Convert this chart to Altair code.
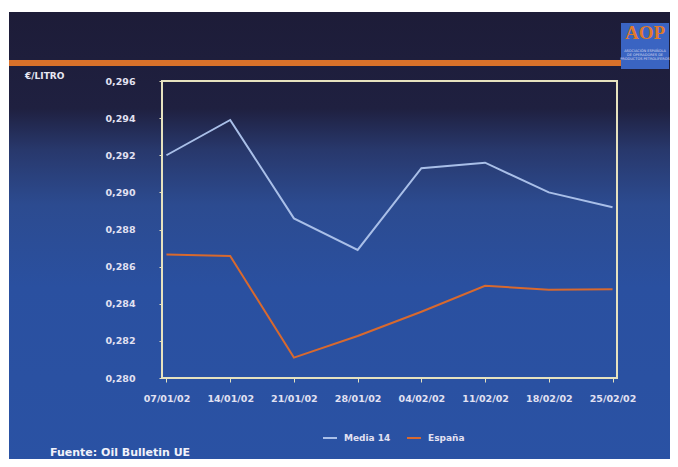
import altair as alt
import pandas as pd

dates = ["07/01/02", "14/01/02", "21/01/02", "28/01/02", "04/02/02", "11/02/02", "18/02/02", "25/02/02"]
media14 = [0.2920, 0.2939, 0.2886, 0.2869, 0.2913, 0.2916, 0.2900, 0.2892]
espana = [0.28665, 0.28657, 0.2811, 0.28226, 0.28357, 0.28497, 0.28476, 0.28478]
series_names = ["Media 14", "España"]
y_ticks = [0.280, 0.282, 0.284, 0.286, 0.288, 0.290, 0.292, 0.294, 0.296]

rows = []
for i, d in enumerate(dates):
    rows.append({"idx": i, "fecha": d, "serie": series_names[0], "valor": media14[i]})
    rows.append({"idx": i, "fecha": d, "serie": series_names[1], "valor": espana[i]})
df = pd.DataFrame(rows)
one = pd.DataFrame({"a": [0]})

W, H = 455, 297
label_font = "DejaVu Sans"
label_color = "#e2e1f2"
tick_color = "#e6e2bf"

bg = alt.Chart(one).mark_rect(
    fill=alt.Gradient(
        gradient="linear",
        stops=[
            alt.GradientStop(offset=0.0, color="#1d1c38"),
            alt.GradientStop(offset=0.21, color="#1f2040"),
            alt.GradientStop(offset=0.30, color="#28386c"),
            alt.GradientStop(offset=0.42, color="#2c4b90"),
            alt.GradientStop(offset=0.60, color="#2a50a0"),
            alt.GradientStop(offset=1.0, color="#2a52a4"),
        ],
        x1=0, x2=0, y1=0, y2=1,
    )
).encode(x=alt.value(-153), x2=alt.value(520), y=alt.value(-69), y2=alt.value(390))

bar = alt.Chart(one).mark_rect(color="#d9712a").encode(
    x=alt.value(-153), x2=alt.value(459), y=alt.value(-21), y2=alt.value(-15)
)

logo_box = alt.Chart(one).mark_rect(color="#3a64c2").encode(
    x=alt.value(459), x2=alt.value(507), y=alt.value(-58), y2=alt.value(-12)
)
logo_text = alt.Chart(one).mark_text(
    text="AOP", color="#e07a2a", font="Liberation Serif", fontSize=19, fontWeight="bold",
    align="center", baseline="middle"
).encode(x=alt.value(483), y=alt.value(-48))
logo_small = alt.Chart(one).mark_text(
    text=["ASOCIACIÓN ESPAÑOLA", "DE OPERADORES DE", "PRODUCTOS PETROLÍFEROS"],
    color="#d8dcf0", font=label_font, fontSize=3.5, lineHeight=4,
    align="center", baseline="top"
).encode(x=alt.value(483), y=alt.value(-32))

unit = alt.Chart(one).mark_text(
    text="€/LITRO", color="#e8e8f4", font=label_font, fontSize=9, fontWeight="bold",
    align="left", baseline="middle"
).encode(x=alt.value(25 - 162), y=alt.value(76 - 81))

footer = alt.Chart(one).mark_text(
    text="Fuente: Oil Bulletin UE", color="#f2f2fa", font=label_font, fontSize=11,
    fontWeight="bold", align="left", baseline="middle"
).encode(x=alt.value(50 - 162), y=alt.value(453 - 81))

lines = alt.Chart(df).mark_line(strokeWidth=2).encode(
    x=alt.X("idx:Q",
            scale=alt.Scale(domain=[-0.07, 7.07], nice=False, zero=False),
            axis=alt.Axis(values=list(range(len(dates))),
                          labelExpr="['" + "','".join(dates) + "'][datum.value]",
                          labelPadding=11, tickSize=4, labelFlush=False,
                          domain=False, grid=False, tickColor=tick_color,
                          labelColor=label_color, labelFont=label_font,
                          labelFontWeight="bold", labelFontSize=9.5, zindex=2),
            title=None),
    y=alt.Y("valor:Q",
            scale=alt.Scale(domain=[0.280, 0.296], nice=False, zero=False),
            axis=alt.Axis(values=y_ticks,
                          labelExpr="replace(format(datum.value, '.3f'), '.', ',')",
                          labelPadding=24, tickSize=3,
                          domain=False, grid=False, tickColor=tick_color,
                          labelColor=label_color, labelFont=label_font,
                          labelFontWeight="bold", labelFontSize=9.5, zindex=2),
            title=None),
    color=alt.Color("serie:N",
                    scale=alt.Scale(domain=series_names, range=["#a9bfe8", "#d8692e"]),
                    sort=series_names,
                    legend=alt.Legend(title=None, orient="none", legendX=160, legendY=349,
                                      direction="horizontal", symbolType="stroke",
                                      symbolSize=196, symbolStrokeWidth=2,
                                      labelOffset=6, columnPadding=12)),
    order="idx:Q",
)

frame = alt.Chart(one).mark_rect(fill="transparent", stroke="#e6e2bf", strokeWidth=2).encode(
    x=alt.value(0), x2=alt.value(W), y=alt.value(0), y2=alt.value(H)
)

chart = alt.layer(bg, bar, logo_box, logo_text, logo_small, unit, footer, lines, frame).properties(
    width=W, height=H,
    autosize=alt.AutoSizeParams(type="none"),
    padding={"left": 154, "top": 73, "right": 53, "bottom": 81},
    background="white",
).configure_view(stroke=None).configure_legend(
    labelColor=label_color, labelFont=label_font, labelFontWeight="bold", labelFontSize=9,
    zindex=2,
)

chart.save("out.html", embed_options={"renderer": "svg", "actions": False})
